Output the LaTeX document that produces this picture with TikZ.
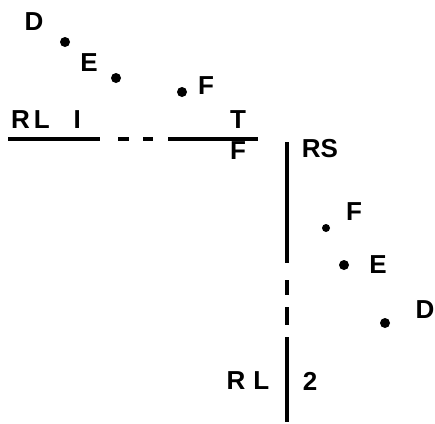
\documentclass[tikz,border=0pt]{standalone}
\usepackage{fontspec}
\setmainfont{Liberation Sans}
\begin{document}
\begin{tikzpicture}[x=1pt,y=-1pt,
  lbl/.style={font=\fontsize{26}{26}\selectfont\bfseries, inner sep=0pt},
  dot/.style={circle, fill=black, inner sep=0pt, minimum size=10pt},
  ln/.style={line width=3.4pt}]
\useasboundingbox (0,0) rectangle (435,423);
% upper left group
\node[lbl] (D1) at (34,22) {D};
\node[dot] (d1) at (65,42) {};
\node[lbl] (E1) at (89,63) {E};
\node[dot] (e1) at (116,78) {};
\node[dot] (f1) at (182,92) {};
\node[lbl] (F1) at (206,86) {F};
\node[lbl] (RL1) at (46,120) {R\hspace{4pt}L\hspace{24pt}I};
\node[lbl] (T) at (238,120) {T};
\node[lbl] (Fb) at (238,151) {F};
% horizontal line
\draw[ln] (8,139) -- (100,139);
\draw[ln] (118,139) -- (129,139);
\draw[ln] (143,139) -- (153,139);
\draw[ln] (168,139) -- (258,139);
% vertical line
\draw[ln] (287,142) -- (287,263);
\draw[ln] (287,280) -- (287,295);
\draw[ln] (287,307) -- (287,325);
\draw[ln] (287,337) -- (287,422);
% right group
\node[lbl] (RS) at (320,149) {RS};
\node[lbl] (F2) at (354,212) {F};
\node[dot, minimum size=8pt] (f2) at (326,228) {};
\node[dot] (e2) at (344,265) {};
\node[lbl] (E2) at (378,265) {E};
\node[lbl] (D2) at (425,310) {D};
\node[dot] (d2) at (385,323) {};
\node[lbl] (RL2) at (248,381) {R\hspace{8pt}L};
\node[lbl] (two) at (310,381) {2};
\end{tikzpicture}
\end{document}
